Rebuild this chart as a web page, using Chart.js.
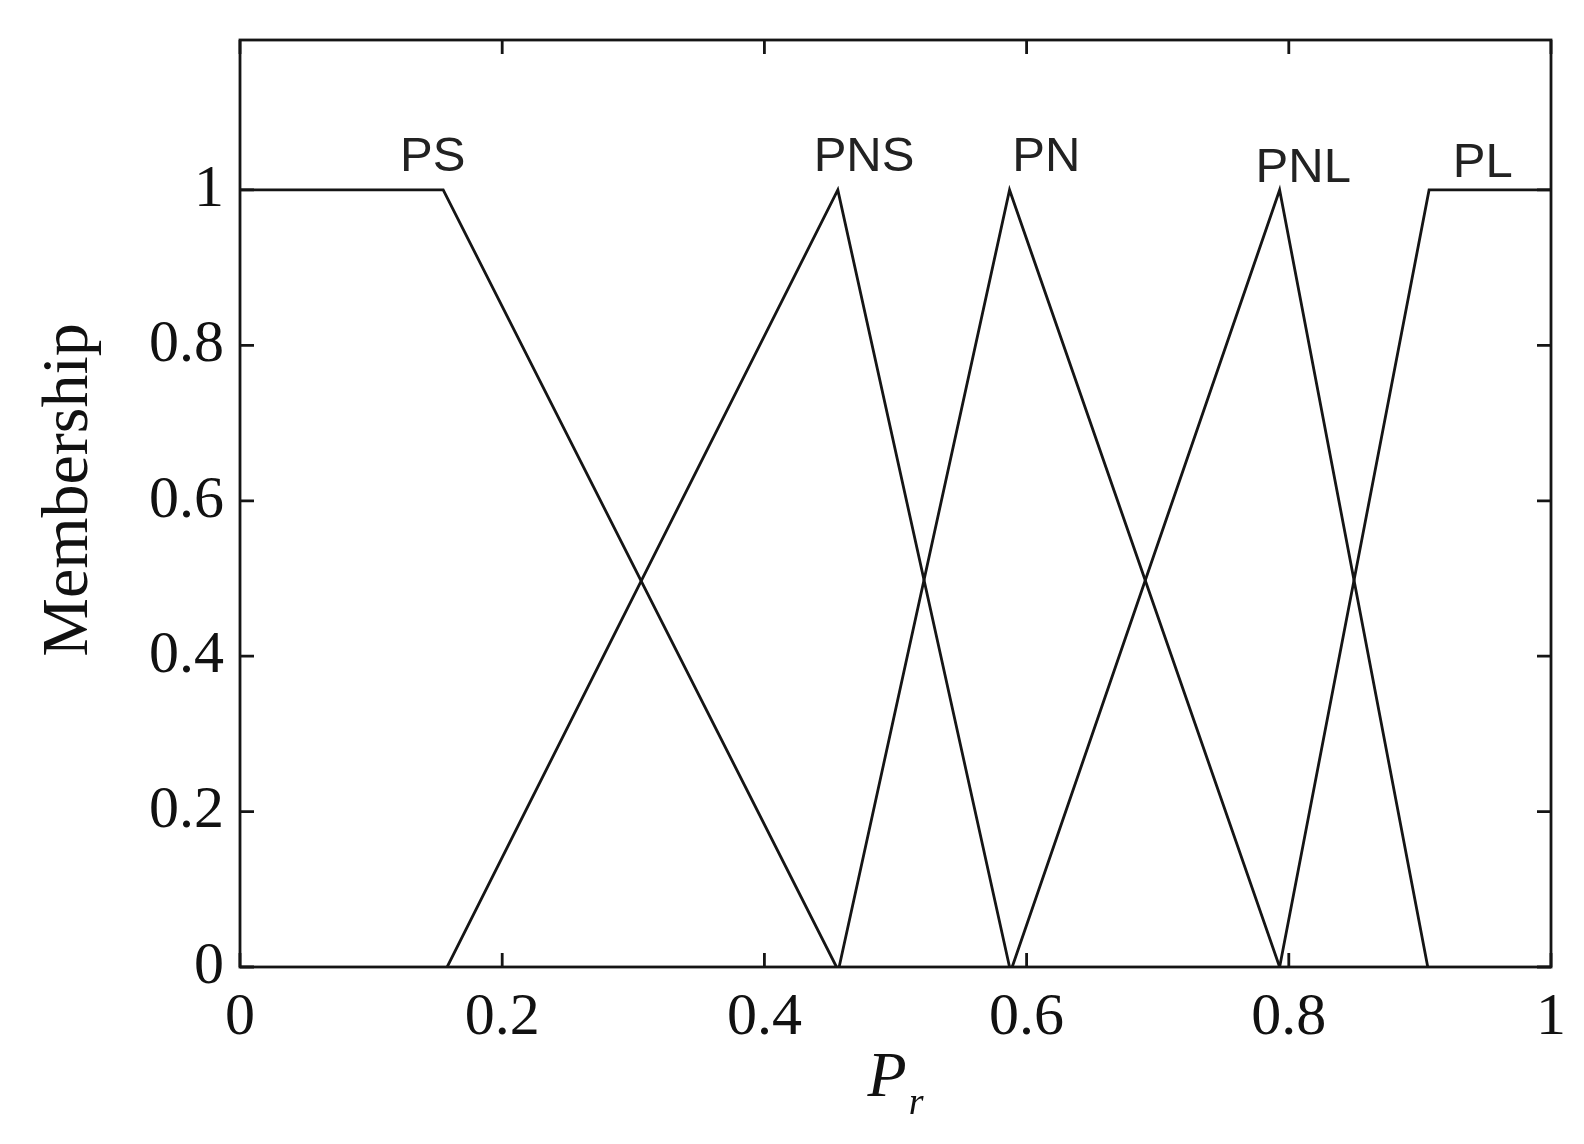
<!DOCTYPE html>
<html>
<head>
<meta charset="utf-8">
<script src="https://cdn.jsdelivr.net/npm/chart.js@4.4.1/dist/chart.umd.min.js"></script>
<style>
html,body{margin:0;padding:0;background:#fff;}
#wrap{width:1584px;height:1144px;}
</style>
</head>
<body>
<div id="wrap"><canvas id="c" width="1584" height="1144"></canvas></div>
<script>
// Membership function series (x = P_r, y = membership)
const psX  = [0, 0.155, 0.455];
const psY  = [1, 1, 0];
const pnsX = [0.158, 0.456, 0.587];
const pnsY = [0, 1, 0];
const pnX  = [0.457, 0.587, 0.793];
const pnY  = [0, 1, 0];
const pnlX = [0.589, 0.793, 0.906];
const pnlY = [0, 1, 0];
const plX  = [0.793, 0.907, 1];
const plY  = [0, 1, 1];

// Curve labels
const labelNames = ['PS', 'PNS', 'PN', 'PNL', 'PL'];
const labelX = [0.147, 0.476, 0.615, 0.811, 0.948];
const labelY = [1.042, 1.042, 1.042, 1.028, 1.034];

// Ticks
const xTicks = [0, 0.2, 0.4, 0.6, 0.8, 1];
const yTicks = [0, 0.2, 0.4, 0.6, 0.8, 1];
const yAxisTitle = 'Membership';
const xAxisTitleMain = 'P';
const xAxisTitleSub = 'r';

const pts = (xs, ys) => xs.map((x, i) => ({x: x, y: ys[i]}));
const lineStyle = {borderColor: '#151515', borderWidth: 2.8, pointRadius: 0, fill: false, tension: 0};

const framePlugin = {
  id: 'frame',
  afterDraw(chart) {
    const ctx = chart.ctx, a = chart.chartArea;
    const xs = chart.scales.x, ys = chart.scales.y;
    ctx.save();
    ctx.strokeStyle = '#151515';
    ctx.lineWidth = 2.8;
    ctx.strokeRect(a.left, a.top, a.right - a.left, a.bottom - a.top);
    const tl = 14;
    ctx.beginPath();
    xTicks.forEach(v => {
      const px = xs.getPixelForValue(v);
      ctx.moveTo(px, a.bottom); ctx.lineTo(px, a.bottom - tl);
      ctx.moveTo(px, a.top); ctx.lineTo(px, a.top + tl);
    });
    yTicks.forEach(v => {
      const py = ys.getPixelForValue(v);
      ctx.moveTo(a.left, py); ctx.lineTo(a.left + tl, py);
      ctx.moveTo(a.right, py); ctx.lineTo(a.right - tl, py);
    });
    ctx.stroke();

    // curve labels
    ctx.fillStyle = '#222';
    ctx.font = '49px "Liberation Sans", Arial, sans-serif';
    ctx.textAlign = 'center';
    ctx.textBaseline = 'middle';
    labelNames.forEach((t, i) => {
      ctx.fillText(t, xs.getPixelForValue(labelX[i]), ys.getPixelForValue(labelY[i]));
    });

    // y title
    ctx.fillStyle = '#111';
    ctx.font = '66px "Liberation Serif", "Times New Roman", serif';
    ctx.save();
    ctx.translate(70, 490);
    ctx.rotate(-Math.PI / 2);
    ctx.textAlign = 'center';
    ctx.textBaseline = 'middle';
    ctx.fillText(yAxisTitle, 0, 0);
    ctx.restore();

    // x title P_r
    ctx.font = 'italic 64px "Liberation Serif", "Times New Roman", serif';
    const wP = ctx.measureText(xAxisTitleMain).width;
    ctx.font = 'italic 38px "Liberation Serif", "Times New Roman", serif';
    const wr = ctx.measureText(xAxisTitleSub).width;
    const cx = (a.left + a.right) / 2;
    const startX = cx - (wP + wr + 2) / 2;
    ctx.textAlign = 'left';
    ctx.textBaseline = 'alphabetic';
    ctx.font = 'italic 64px "Liberation Serif", "Times New Roman", serif';
    ctx.fillText(xAxisTitleMain, startX, 1096);
    ctx.font = 'italic 38px "Liberation Serif", "Times New Roman", serif';
    ctx.fillText(xAxisTitleSub, startX + wP + 2, 1114);
    ctx.restore();
  }
};

new Chart(document.getElementById('c'), {
  type: 'line',
  data: {
    datasets: [
      Object.assign({label: 'PS', data: pts(psX, psY)}, lineStyle),
      Object.assign({label: 'PNS', data: pts(pnsX, pnsY)}, lineStyle),
      Object.assign({label: 'PN', data: pts(pnX, pnY)}, lineStyle),
      Object.assign({label: 'PNL', data: pts(pnlX, pnlY)}, lineStyle),
      Object.assign({label: 'PL', data: pts(plX, plY)}, lineStyle)
    ]
  },
  options: {
    responsive: false,
    animation: false,
    devicePixelRatio: 1,
    layout: {padding: {top: 40, right: 33, left: 0, bottom: 0}},
    plugins: {legend: {display: false}, tooltip: {enabled: false}, title: {display: false}},
    scales: {
      x: {
        type: 'linear', min: 0, max: 1,
        grid: {display: false, drawTicks: false},
        border: {display: false},
        afterBuildTicks: s => { s.ticks = xTicks.map(v => ({value: v})); },
        afterFit: s => { s.height = 177; s.paddingLeft = 0; s.paddingRight = 0; },
        ticks: {
          padding: 15, color: '#111', maxRotation: 0, autoSkip: false,
          font: {family: '"Liberation Serif", "Times New Roman", serif', size: 60},
          callback: v => String(v)
        }
      },
      y: {
        type: 'linear', min: 0, max: 1.193,
        grid: {display: false, drawTicks: false},
        border: {display: false},
        afterBuildTicks: s => { s.ticks = yTicks.map(v => ({value: v})); },
        afterFit: s => { s.width = 240; s.paddingTop = 0; s.paddingBottom = 0; },
        ticks: {
          padding: 16, color: '#111', autoSkip: false,
          font: {family: '"Liberation Serif", "Times New Roman", serif', size: 60},
          callback: v => String(v)
        }
      }
    }
  },
  plugins: [framePlugin]
});
</script>
</body>
</html>
